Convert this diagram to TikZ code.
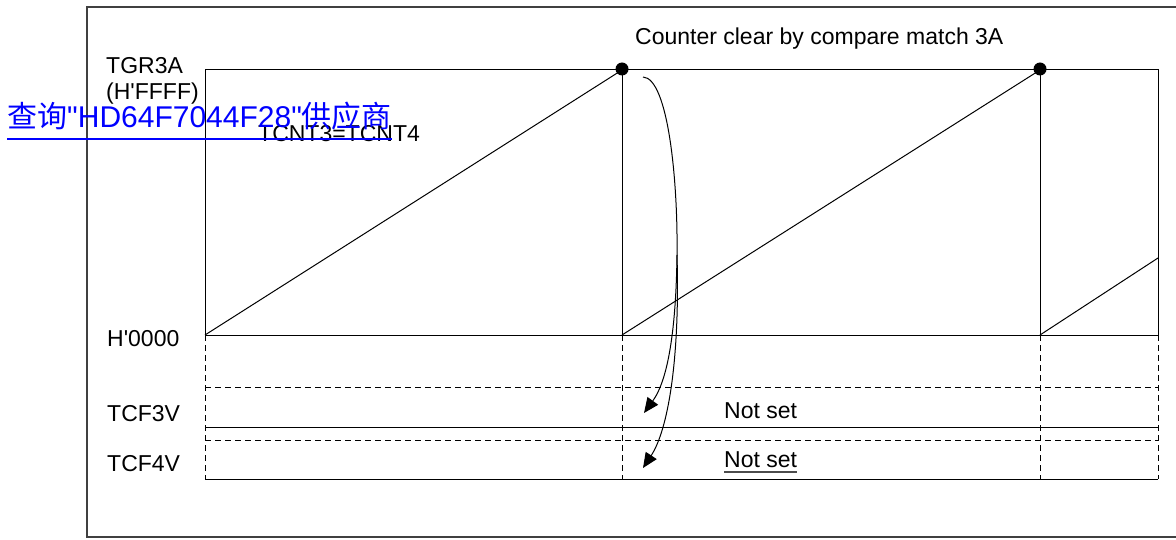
\documentclass[tikz,border=0pt]{standalone}
\usepackage{fontspec}
\setmainfont{Liberation Sans}
\newfontfamily\arial{Liberation Sans}
\newfontfamily\cjk{Noto Sans CJK SC}
\usetikzlibrary{arrows.meta}
\begin{document}
\begin{tikzpicture}[x=1pt,y=-1pt,
  lbl/.style={anchor=base west,inner sep=0pt,font=\arial\fontsize{23}{26}\selectfont},
  wave/.style={line width=1pt,black},
  gridline/.style={line width=1pt,dash pattern=on 6pt off 4pt},
  flow/.style={line width=1pt,-{Triangle[length=15pt,width=13pt]}},
  frame/.style={line width=1.2pt,black!75}]
\useasboundingbox (0,0) rectangle (1176,540);
% outer frame
\draw[frame] (1176,7) -- (87,7) -- (87,537) -- (1176,537);
% counter box
\draw[wave] (205,70) rectangle (1158,335);
\draw[wave] (622,70) -- (622,335);
\draw[wave] (1040,70) -- (1040,335);
\draw[wave] (205,335) -- (622,70);
\draw[wave] (622,335) -- (1040,70);
\draw[wave] (1040,335) -- (1158,258);
% flag rows
\foreach \x in {205,622,1040,1158} \draw[gridline] (\x,335) -- (\x,479);
\draw[gridline] (205,387) -- (1158,387);
\draw[gridline] (205,440) -- (1158,440);
\draw[wave] (205,427) -- (1158,427);
\draw[wave] (205,479) -- (1158,479);
% compare match dots
\fill (622,69) circle (6.5pt);
\fill (1040,69) circle (6.5pt);
% arrows
\coordinate (s) at (643,77);
\coordinate (m) at (677,255);
\coordinate (t3) at (644,413);
\coordinate (t4) at (643,468);
\draw[line width=1pt] (s) .. controls (668,78) and (678,180) .. (m);
\draw[flow] (m) .. controls (676,330) and (668,380) .. (t3);
\draw[flow] (m) .. controls (680,360) and (668,430) .. (t4);
% labels
\node[lbl] (tgr) at (106,74) {TGR3A};
\node[lbl] (hffff) at (106,100) {(H'FFFF)};
\node[lbl] (tcnt) at (258,142) {TCNT3=TCNT4};
\node[lbl] (h0000) at (107,346) {H'0000};
\node[lbl] (tcf3) at (107,421) {TCF3V};
\node[lbl] (tcf4) at (107,471) {TCF4V};
\node[lbl] (ctr) at (635,45) {Counter clear by compare match 3A};
\node[lbl] (ns3) at (724,418) {Not set};
\node[lbl] (ns4) at (724,467) {Not set};
\draw[line width=1.2pt,black!70] ([yshift=-5pt]ns4.base west) -- ([yshift=-5pt]ns4.base east);
% link overlay
\node[anchor=base west,inner sep=0pt,text=blue,font=\arial\fontsize{30}{33}\selectfont] (link) at (7,128) {{\cjk 查询}"HD64F7044F28"{\cjk 供应商}};
\draw[blue,line width=1.5pt] ([yshift=-11pt]link.base west) -- ([yshift=-11pt]link.base east);
\end{tikzpicture}
\end{document}
